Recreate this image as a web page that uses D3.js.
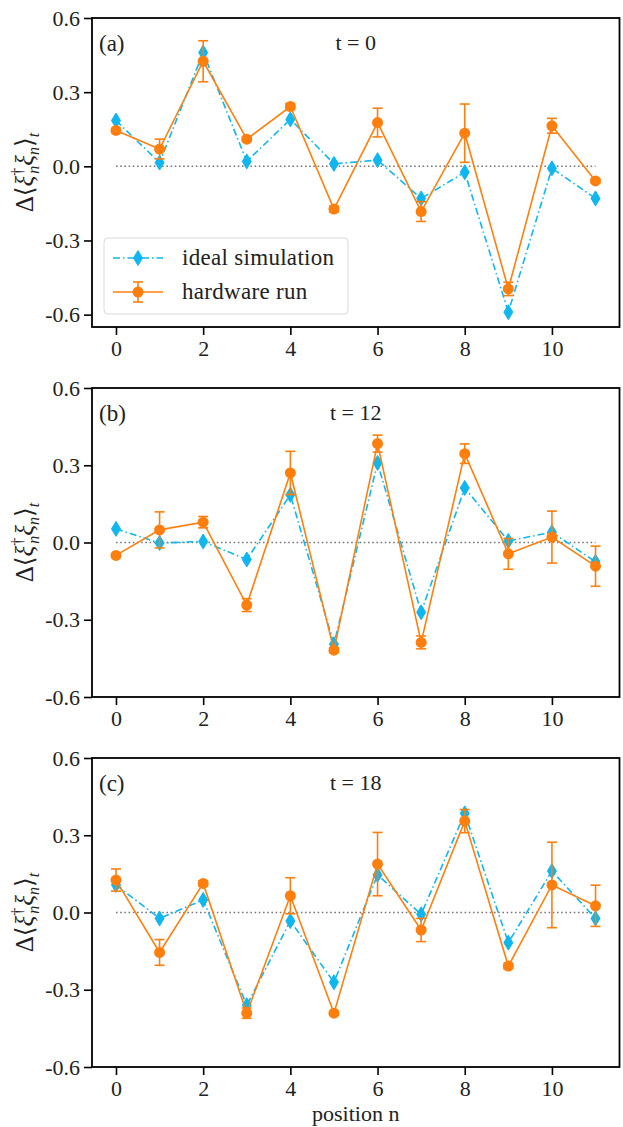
<!DOCTYPE html>
<html>
<head>
<meta charset="utf-8">
<script src="https://cdn.jsdelivr.net/npm/d3@7"></script>
<style>
  body { margin: 0; background: #fff; }
  svg text { font-family: "Liberation Serif", "DejaVu Serif", serif; fill: #222; }
</style>
</head>
<body>
<svg id="chart" width="623" height="1127"></svg>
<script>
// positions n = 0..11
var positions = [0, 1, 2, 3, 4, 5, 6, 7, 8, 9, 10, 11];
var xTicks = [0, 2, 4, 6, 8, 10];
var yTicks = [-0.6, -0.3, 0.0, 0.3, 0.6];
var yTickLabels = ['-0.6', '-0.3', '0.0', '0.3', '0.6'];

// panel (a), t = 0
var idealA = [0.185, 0.015, 0.46, 0.02, 0.19, 0.01, 0.025, -0.13, -0.024, -0.59, -0.008, -0.13];
var hardA = [0.145, 0.07, 0.425, 0.11, 0.242, -0.173, 0.177, -0.183, 0.134, -0.496, 0.164, -0.059];
var errA = [0.008, 0.04, 0.083, 0.01, 0.012, 0.012, 0.058, 0.04, 0.118, 0.027, 0.03, 0.008];

// panel (b), t = 12
var idealB = [0.053, -0.002, 0.004, -0.066, 0.185, -0.395, 0.309, -0.271, 0.212, 0.006, 0.04, -0.075];
var hardB = [-0.05, 0.049, 0.079, -0.243, 0.27, -0.418, 0.384, -0.388, 0.345, -0.044, 0.021, -0.092];
var errB = [0.0, 0.07, 0.022, 0.025, 0.084, 0.01, 0.033, 0.025, 0.038, 0.06, 0.101, 0.078];

// panel (c), t = 18
var idealC = [0.107, -0.023, 0.049, -0.36, -0.033, -0.271, 0.146, -0.007, 0.385, -0.117, 0.161, -0.023];
var hardC = [0.126, -0.155, 0.113, -0.391, 0.065, -0.391, 0.188, -0.068, 0.355, -0.208, 0.107, 0.026];
var errC = [0.043, 0.05, 0.01, 0.02, 0.07, 0.008, 0.123, 0.045, 0.045, 0.01, 0.166, 0.08];

var panels = [
    {tag: '(a)', title: 't = 0', top: 18, yMin: -0.65, ideal: idealA, hard: hardA, err: errA, legend: true},
    {tag: '(b)', title: 't = 12', top: 388, yMin: -0.6, ideal: idealB, hard: hardB, err: errB},
    {tag: '(c)', title: 't = 18', top: 758, yMin: -0.6, ideal: idealC, hard: hardC, err: errC, xlabel: 'position n'}
];

var cyan = '#10b6ee';
var orange = '#ff7f0e';
var left = 92, right = 619.5, panelH = 309;
var fs = 22;

var svg = d3.select('#chart');

var x = d3.scaleLinear().domain([-0.55, 11.55]).range([left, right]);

function diamond(sel) {
    return sel.append('path')
        .attr('d', 'M0,-7.5L4.5,0L0,7.5L-4.5,0Z')
        .attr('fill', cyan)
        .attr('stroke', cyan)
        .attr('stroke-width', 1);
}

function yLabel(g, cx, cy) {
    var t = g.append('text')
        .attr('transform', 'translate(' + cx + ',' + cy + ') rotate(-90)')
        .attr('text-anchor', 'middle')
        .attr('font-size', 25);
    t.append('tspan').text('Δ⟨');
    t.append('tspan').attr('font-style', 'italic').text('ξ');
    t.append('tspan').attr('font-size', 16).attr('dy', -10).text('†');
    t.append('tspan').attr('font-size', 16).attr('font-style', 'italic').attr('dx', -6).attr('dy', 16).text('n');
    t.append('tspan').attr('font-style', 'italic').attr('dy', -6).text('ξ');
    t.append('tspan').attr('font-size', 16).attr('font-style', 'italic').attr('dy', 6).text('n');
    t.append('tspan').attr('dy', -6).text('⟩');
    t.append('tspan').attr('font-size', 16).attr('font-style', 'italic').attr('dy', 6).text('t');
}

panels.forEach(function(p) {
    var y = d3.scaleLinear().domain([p.yMin, 0.6]).range([p.top + panelH, p.top]);
    var g = svg.append('g');

    // zero reference
    g.append('line')
        .attr('x1', x(0)).attr('x2', x(11))
        .attr('y1', y(0)).attr('y2', y(0))
        .attr('stroke', '#777')
        .attr('stroke-width', 1.6)
        .attr('stroke-dasharray', '1.6,2.6');

    // ideal simulation
    var line = d3.line()
        .x(function(d, i) { return x(positions[i]); })
        .y(function(d) { return y(d); });

    g.append('path')
        .datum(p.ideal)
        .attr('d', line)
        .attr('fill', 'none')
        .attr('stroke', cyan)
        .attr('stroke-width', 1.6)
        .attr('stroke-dasharray', '7,3,1.5,3');

    g.selectAll('.dia')
        .data(p.ideal)
        .enter()
        .append('g')
        .attr('transform', function(d, i) { return 'translate(' + x(positions[i]) + ',' + y(d) + ')'; })
        .call(diamond);

    // hardware run
    g.append('path')
        .datum(p.hard)
        .attr('d', line)
        .attr('fill', 'none')
        .attr('stroke', orange)
        .attr('stroke-width', 1.6);

    var eb = g.selectAll('.eb')
        .data(p.hard)
        .enter()
        .append('g')
        .attr('stroke', orange)
        .attr('stroke-width', 1.6);

    eb.append('line')
        .attr('x1', function(d, i) { return x(positions[i]); })
        .attr('x2', function(d, i) { return x(positions[i]); })
        .attr('y1', function(d, i) { return y(d + p.err[i]); })
        .attr('y2', function(d, i) { return y(d - p.err[i]); });

    [1, -1].forEach(function(s) {
        eb.append('line')
            .attr('x1', function(d, i) { return x(positions[i]) - 5; })
            .attr('x2', function(d, i) { return x(positions[i]) + 5; })
            .attr('y1', function(d, i) { return y(d + s * p.err[i]); })
            .attr('y2', function(d, i) { return y(d + s * p.err[i]); });
    });

    g.selectAll('.dot')
        .data(p.hard)
        .enter()
        .append('circle')
        .attr('cx', function(d, i) { return x(positions[i]); })
        .attr('cy', function(d) { return y(d); })
        .attr('r', 5.5)
        .attr('fill', orange);

    // frame
    g.append('rect')
        .attr('x', left).attr('y', p.top)
        .attr('width', right - left).attr('height', panelH)
        .attr('fill', 'none')
        .attr('stroke', '#000')
        .attr('stroke-width', 1.8);

    // axes
    var xAxis = d3.axisBottom(x).tickValues(xTicks).tickSize(8).tickPadding(5).tickFormat(d3.format('d'));
    var yAxis = d3.axisLeft(y).tickValues(yTicks).tickSize(8).tickPadding(4)
        .tickFormat(function(d, i) { return yTickLabels[i]; });

    var gx = g.append('g')
        .attr('transform', 'translate(0,' + (p.top + panelH) + ')')
        .call(xAxis);
    var gy = g.append('g')
        .attr('transform', 'translate(' + left + ',0)')
        .call(yAxis);

    [gx, gy].forEach(function(a) {
        a.select('.domain').remove();
        a.selectAll('.tick line').attr('stroke', '#000').attr('stroke-width', 1.6);
        a.selectAll('.tick text')
            .attr('font-family', '"Liberation Serif", serif')
            .attr('font-size', fs)
            .attr('fill', '#222');
    });

    // panel tag & title
    g.append('text')
        .attr('x', 99).attr('y', p.top + 33)
        .attr('font-size', 23)
        .text(p.tag);
    g.append('text')
        .attr('x', (left + right) / 2).attr('y', p.top + 32)
        .attr('text-anchor', 'middle')
        .attr('font-size', fs)
        .text(p.title);

    yLabel(g, 33, p.top + panelH / 2);

    if (p.xlabel) {
        g.append('text')
            .attr('x', (left + right) / 2).attr('y', 1121)
            .attr('text-anchor', 'middle')
            .attr('font-size', fs)
            .text(p.xlabel);
    }

    if (p.legend) {
        var lg = g.append('g').attr('transform', 'translate(104,238)');
        lg.append('rect')
            .attr('width', 244).attr('height', 76)
            .attr('rx', 4)
            .attr('fill', '#fff')
            .attr('fill-opacity', 0.85)
            .attr('stroke', '#d9d9d9');

        lg.append('line')
            .attr('x1', 9).attr('x2', 59).attr('y1', 20).attr('y2', 20)
            .attr('stroke', cyan).attr('stroke-width', 1.6)
            .attr('stroke-dasharray', '7,3,1.5,3');
        lg.append('g').attr('transform', 'translate(34,20)').call(diamond);
        lg.append('text').attr('x', 78).attr('y', 27).attr('font-size', 23).attr('letter-spacing', 0.3).text('ideal simulation');

        lg.append('line')
            .attr('x1', 9).attr('x2', 59).attr('y1', 54).attr('y2', 54)
            .attr('stroke', orange).attr('stroke-width', 1.6);
        lg.append('line')
            .attr('x1', 34).attr('x2', 34).attr('y1', 44).attr('y2', 64)
            .attr('stroke', orange).attr('stroke-width', 1.6);
        [44, 64].forEach(function(cy) {
            lg.append('line')
                .attr('x1', 29).attr('x2', 39).attr('y1', cy).attr('y2', cy)
                .attr('stroke', orange).attr('stroke-width', 1.6);
        });
        lg.append('circle').attr('cx', 34).attr('cy', 54).attr('r', 5.5).attr('fill', orange);
        lg.append('text').attr('x', 78).attr('y', 61).attr('font-size', 23).attr('letter-spacing', 0.3).text('hardware run');
    }
});
</script>
</body>
</html>
